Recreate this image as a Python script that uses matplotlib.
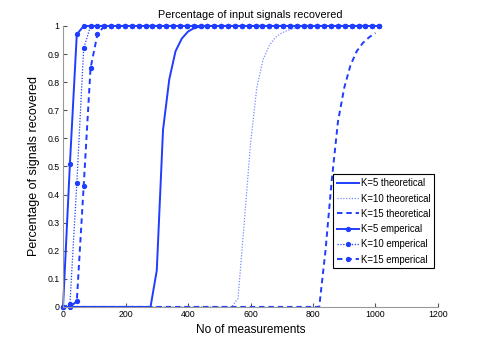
import numpy as np
import matplotlib
matplotlib.use('Agg')
import matplotlib.pyplot as plt

# theoretical curves, sampled every 20 measurements
x_theory = np.arange(0, 1001, 20)
k5_theory = [0]*14 + [0.0, 0.13, 0.63, 0.81, 0.91, 0.955, 0.98, 0.993, 0.998] + [1.0]*28
k10_theory = [0]*27 + [0.0, 0.03, 0.30, 0.58, 0.78, 0.88, 0.93, 0.96, 0.975, 0.985,
                       0.992, 0.996, 0.998, 1.0] + [1.0]*10
k15_theory = [0]*41 + [0.0, 0.20, 0.45, 0.66, 0.78, 0.86, 0.91, 0.94, 0.96, 0.975]

# empirical curves, sampled every 22 measurements
x_emp = np.arange(0, 1013, 22)
k5_emp = [0.0, 0.51, 0.97] + [1.0]*44
k10_emp = [0.0, 0.01, 0.44, 0.92] + [1.0]*43
k15_emp = [0.0, 0.0, 0.02, 0.43, 0.85, 0.97] + [1.0]*41

blue = '#1f3dff'
dot = (0, (1, 1.3))
dash = (0, (2.8, 2.0))

plt.rcParams['font.family'] = 'Liberation Sans'

fig = plt.figure(figsize=(4.85, 3.46), dpi=100)
ax = fig.add_axes([0.13, 0.113, 0.773, 0.812])

ax.plot(x_theory, k5_theory, linestyle='-', color=blue, lw=1.4, label='K=5 theoretical', clip_on=False)
ax.plot(x_theory, k10_theory, linestyle=dot, color=blue, lw=0.9, alpha=0.6, label='K=10 theoretical', clip_on=False)
ax.plot(x_theory, k15_theory, linestyle=dash, color=blue, lw=1.4, label='K=15 theoretical', clip_on=False)
ax.plot(x_emp, k5_emp, linestyle='-', marker='o', ms=2.8, color=blue, lw=1.4, label='K=5 emperical', clip_on=False)
ax.plot(x_emp, k10_emp, linestyle=dot, marker='o', ms=2.8, color=blue, lw=0.9, label='K=10 emperical', clip_on=False)
ax.plot(x_emp, k15_emp, linestyle=dash, marker='o', ms=2.8, color=blue, lw=1.4, label='K=15 emperical', clip_on=False)

ax.set_xlim(0, 1200)
ax.set_ylim(0, 1)
ax.set_xticks(np.arange(0, 1201, 200))
ax.set_yticks(np.arange(0, 1.01, 0.1))
ax.set_yticklabels(['0', '0.1', '0.2', '0.3', '0.4', '0.5', '0.6', '0.7', '0.8', '0.9', '1'])

for side in ['top', 'right']:
    ax.spines[side].set_visible(False)
for side in ['left', 'bottom']:
    ax.spines[side].set_color('#999999')
ax.tick_params(direction='in', length=3, color='#555555', labelsize=6.3, pad=2.5)

ax.set_title('Percentage of input signals recovered', fontsize=7.8, pad=6)
ax.set_xlabel('No of measurements', fontsize=8.5, labelpad=3)
ax.set_ylabel('Percentage of signals recovered', fontsize=9, labelpad=5)

leg = ax.legend(loc='lower right', bbox_to_anchor=(0.995, 0.13),
                prop={'size': 6.9}, fancybox=False, edgecolor='black', framealpha=1,
                handlelength=2.3, handletextpad=0.15, labelspacing=0.55,
                borderpad=0.4, borderaxespad=0.2)
leg.get_frame().set_linewidth(0.8)

fig.savefig('out.png', dpi=100)
